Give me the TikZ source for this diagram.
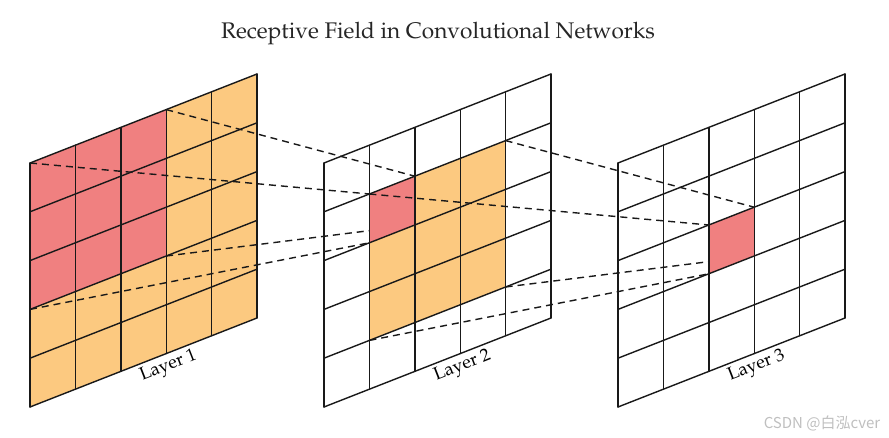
\documentclass[tikz,border=0pt]{standalone}
\usepackage{fontspec}
\newfontfamily\cjkfont{Noto Sans CJK SC}
\newcommand\palfont{\fontencoding{OT1}\fontfamily{ppl}\selectfont}
\usetikzlibrary{positioning}
\definecolor{cellred}{RGB}{240,128,128}
\definecolor{cellorange}{RGB}{252,201,128}
\tikzset{
  gridline/.style={line width=1.4pt,black!90,line cap=round},
  field/.style={line width=1.4pt,black!90,dash pattern=on 7pt off 5pt},
  layerlabel/.style={font=\palfont\fontsize{18}{20}\selectfont,sloped,below,pos=0.59,inner sep=4pt},
  heading/.style={font=\palfont\fontsize{22.6}{26}\selectfont,text=black!85}
}
\begin{document}
\begin{tikzpicture}[x=1pt,y=1pt]
\useasboundingbox (0,0) rectangle (889,438);
% corner points of the three layers, L<layer>-<column>-<row>
\foreach \L/\xo in {1/30,2/324,3/618}
  \foreach \i in {0,...,5}
    \foreach \j in {0,...,5}
      \coordinate (L\L-\i-\j) at ({\xo+45.4*\i},{275+17.8*\i-48.8*\j});
\node[heading] (title) at (438,405) {Receptive Field in Convolutional Networks};
% layer 1
\path[fill=cellorange] (L1-0-0) -- (L1-5-0) -- (L1-5-5) -- (L1-0-5) -- cycle;
\path[fill=cellred] (L1-0-0) -- (L1-3-0) -- (L1-3-3) -- (L1-0-3) -- cycle;
\foreach \k in {0,...,5} {
  \draw[gridline] (L1-\k-0) -- (L1-\k-5);
  \draw[gridline] (L1-0-\k) -- (L1-5-\k);
}
\path (L1-0-5) -- (L1-5-5) node[layerlabel] (lab1) {Layer 1};
% field of the red cell of layer 2
\draw[field] (L1-0-0) -- (L2-1-1);
\draw[field] (L1-3-0) -- (L2-2-1);
\draw[field] (L1-0-3) -- (L2-1-2);
\draw[field] (L1-3-3) -- (L2-2-2);
% layer 2
\path[fill=cellorange] (L2-1-1) -- (L2-4-1) -- (L2-4-4) -- (L2-1-4) -- cycle;
\path[fill=cellred] (L2-1-1) -- (L2-2-1) -- (L2-2-2) -- (L2-1-2) -- cycle;
\foreach \k in {0,...,5} {
  \draw[gridline] (L2-\k-0) -- (L2-\k-5);
  \draw[gridline] (L2-0-\k) -- (L2-5-\k);
}
\path (L2-0-5) -- (L2-5-5) node[layerlabel] (lab2) {Layer 2};
% field of the red cell of layer 3
\draw[field] (L2-1-1) -- (L3-2-2);
\draw[field] (L2-4-1) -- (L3-3-2);
\draw[field] (L2-1-4) -- (L3-2-3);
\draw[field] (L2-4-4) -- (L3-3-3);
% layer 3
\path[fill=cellred] (L3-2-2) -- (L3-3-2) -- (L3-3-3) -- (L3-2-3) -- cycle;
\foreach \k in {0,...,5} {
  \draw[gridline] (L3-\k-0) -- (L3-\k-5);
  \draw[gridline] (L3-0-\k) -- (L3-5-\k);
}
\path (L3-0-5) -- (L3-5-5) node[layerlabel] (lab3) {Layer 3};
\node[text=black!25,font=\cjkfont\fontsize{15}{17}\selectfont] (csdn) at (822,15) {CSDN @白泓cver};
\end{tikzpicture}
\end{document}
